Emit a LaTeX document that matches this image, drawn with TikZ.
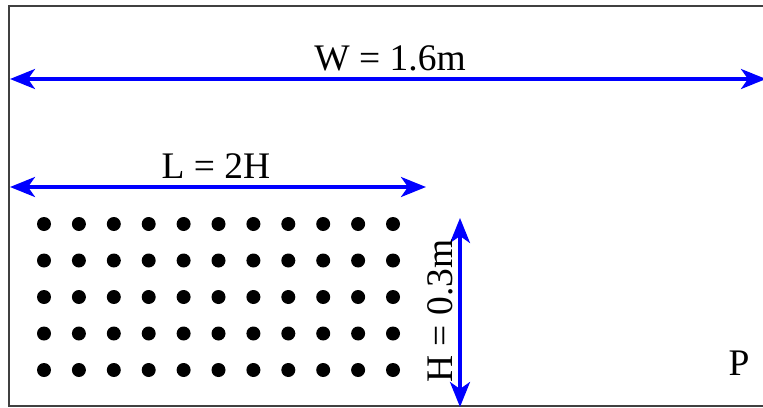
\documentclass[tikz,border=0pt]{standalone}
\usepackage{fontspec}
\setmainfont{Liberation Serif}
\usetikzlibrary{arrows.meta}

\begin{document}
\begin{tikzpicture}[
  x=1pt, y=-1pt,
  dim/.style={blue, line width=3.5pt,
    {Stealth[length=25pt,width=20pt,inset=7pt]}-{Stealth[length=25pt,width=20pt,inset=7pt]}},
  lbl/.style={font=\fontsize{37.5}{45}\selectfont, inner sep=0pt},
  dot/.style={circle, fill=black, inner sep=0pt, minimum size=14pt}
]
\useasboundingbox (0,0) rectangle (763,407);
% frame, right side runs off the page
\begin{scope}
  \clip (0,0) rectangle (763,407);
  \draw[black!75, line width=1.4pt] (9,6) rectangle (790,406);
\end{scope}
% grid of points
\foreach \i in {0,...,10} {
  \foreach \j in {0,...,4} {
    \node[dot] (d\i-\j) at ({44+34.9*\i},{224+36.5*\j}) {};
  }
}
% dimension ends
\coordinate (wl) at (10,79);
\coordinate (wr) at (766,79);
\coordinate (ll) at (10,187);
\coordinate (lr) at (426,187);
\coordinate (ht) at (460,218);
\coordinate (hb) at (460,407);
% dimensions
\draw[dim] (wl) -- (wr);
\draw[dim] (ll) -- (lr);
\draw[dim] (ht) -- (hb);
% labels
\node[lbl, anchor=base] (wlab) at (390,70) {W = 1.6m};
\node[lbl, anchor=base] (llab) at (216,178) {L = 2H};
\node[lbl, anchor=base, rotate=90] (hlab) at (452,311) {H = 0.3m};
\node[lbl, anchor=base] (plab) at (739,375) {P};
\end{tikzpicture}
\end{document}
